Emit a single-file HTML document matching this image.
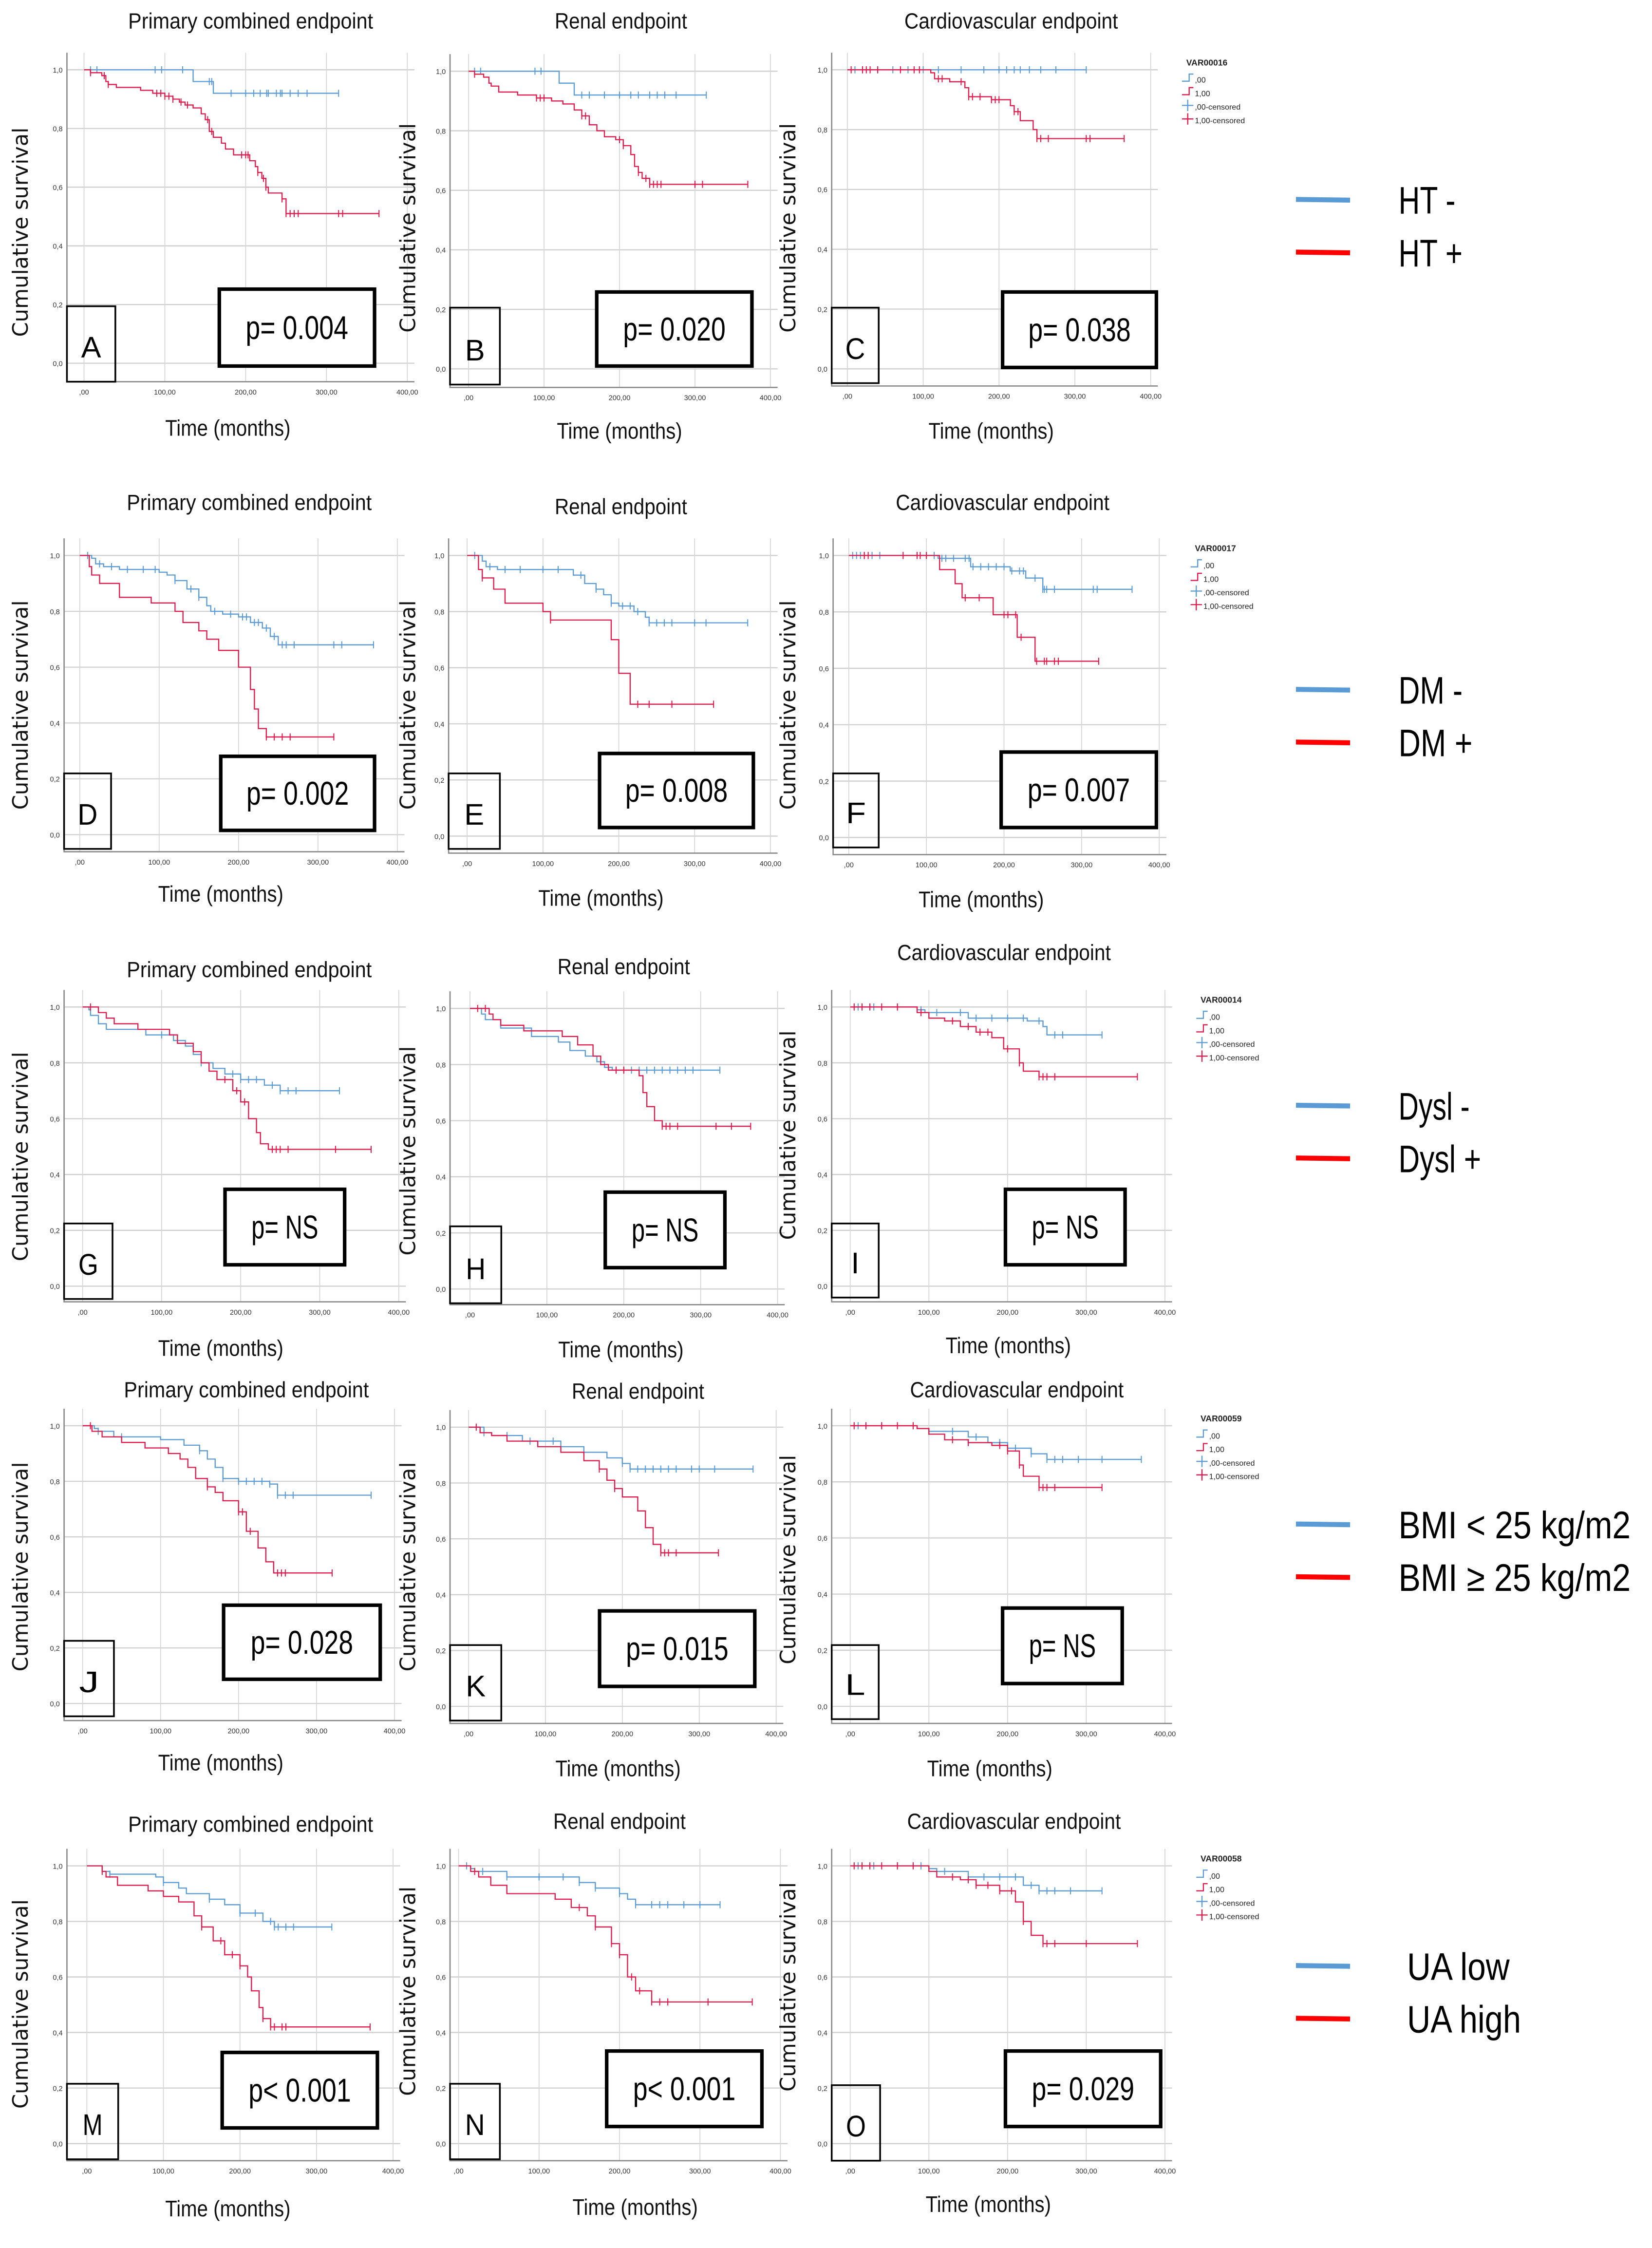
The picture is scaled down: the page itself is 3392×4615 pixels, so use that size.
<!DOCTYPE html>
<html><head><meta charset="utf-8"><title>Kaplan-Meier survival curves</title>
<style>html,body{margin:0;padding:0;background:#fff}svg{display:block}
text{font-family:"Liberation Sans Narrow","Liberation Sans",sans-serif}</style></head>
<body>
<svg id="fig" xmlns="http://www.w3.org/2000/svg" width="3392" height="4615" viewBox="0 0 1160 1578.3" preserveAspectRatio="none"></svg>
<script>
// ---- data: [time (months)], [survival], [censor times] ----
const aBlueT=[0,135,160,315], aBlueS=[1,0.96,0.92,0.92], aBlueC=[8,16,88,96,122,155,158,182,200,210,218,226,228,238,243,245,255,265,276,315];
const aRedT=[0,8,22,27,30,40,70,85,100,110,118,125,135,145,150,155,160,170,175,185,205,212,215,220,225,228,245,250,365];
const aRedS=[1,0.99,0.98,0.96,0.95,0.94,0.93,0.92,0.91,0.90,0.89,0.88,0.87,0.85,0.83,0.79,0.77,0.75,0.73,0.71,0.69,0.67,0.65,0.63,0.60,0.58,0.56,0.51,0.51];
const aRedC=[8,25,30,90,95,100,105,110,120,128,153,158,195,200,203,215,222,225,245,250,255,260,265,315,320,365];
const bBlueT=[0,120,140,315], bBlueS=[1,0.96,0.92,0.92], bBlueC=[8,16,88,96,150,160,180,200,215,225,240,250,260,275,315];
const bRedT=[0,8,20,27,30,40,65,90,110,125,140,150,160,170,180,195,205,215,220,225,230,240,370];
const bRedS=[1,0.99,0.98,0.96,0.95,0.93,0.92,0.91,0.90,0.89,0.87,0.85,0.82,0.80,0.78,0.77,0.75,0.72,0.68,0.66,0.64,0.62,0.62];
const bRedC=[8,90,95,100,150,155,200,205,225,235,240,245,250,255,300,310,370];
const cBlueT=[0,315], cBlueS=[1,1], cBlueC=[10,20,40,60,80,100,120,150,180,200,210,220,228,240,255,275,315];
const cRedT=[0,110,115,135,155,160,190,215,220,228,245,250,365];
const cRedS=[1,0.99,0.97,0.96,0.94,0.91,0.90,0.88,0.86,0.83,0.80,0.77,0.77];
const cRedC=[5,20,25,30,40,70,88,95,120,125,150,160,165,175,190,195,200,220,225,250,255,265,315,320,365];
const dBlueT=[0,15,20,30,50,100,110,120,135,150,160,165,180,200,215,230,240,250,255,370];
const dBlueS=[1,0.99,0.97,0.96,0.95,0.94,0.93,0.91,0.88,0.85,0.82,0.80,0.79,0.78,0.76,0.74,0.71,0.68,0.68,0.68];
const dBlueC=[10,25,40,60,80,95,120,140,150,170,190,205,210,220,225,235,245,255,260,270,320,330,370];
const dRedT=[0,12,15,25,50,90,120,130,150,160,175,200,215,220,225,235,245,320];
const dRedS=[1,0.96,0.93,0.90,0.85,0.83,0.80,0.76,0.73,0.70,0.66,0.60,0.52,0.45,0.38,0.35,0.35,0.35];
const dRedC=[235,245,255,265,320];
const eBlueT=[0,20,25,40,140,155,170,180,190,200,220,235,240,250,370];
const eBlueS=[1,0.98,0.96,0.95,0.93,0.90,0.88,0.86,0.83,0.82,0.80,0.78,0.76,0.76,0.76];
const eBlueC=[10,30,50,70,100,120,150,170,190,205,215,225,240,250,260,270,300,315,370];
const eRedT=[0,15,20,35,50,100,110,190,200,215,225,325], eRedS=[1,0.95,0.92,0.88,0.83,0.80,0.77,0.70,0.58,0.47,0.47,0.47];
const eRedC=[20,110,225,240,270,325];
const fBlueT=[0,115,157,208,228,250,365], fBlueS=[1,0.99,0.96,0.945,0.92,0.88,0.88];
const fBlueC=[5,10,15,20,30,40,110,120,125,135,150,155,160,170,180,190,200,210,220,225,240,250,252,255,265,315,320,365];
const fRedT=[0,117,137,146,186,217,240,322], fRedS=[1,0.95,0.90,0.85,0.79,0.71,0.625,0.625];
const fRedC=[20,25,70,88,92,100,150,168,200,205,215,222,242,252,255,265,270,322];
const gBlueT=[0,8,10,20,30,80,115,130,140,150,165,180,200,230,250,325];
const gBlueS=[1,0.99,0.97,0.94,0.92,0.90,0.88,0.86,0.83,0.80,0.78,0.76,0.74,0.72,0.70,0.70];
const gBlueC=[100,150,190,200,210,220,240,250,260,270,325];
const gRedT=[0,20,30,40,70,110,120,140,150,160,170,190,200,210,220,225,235,240,365];
const gRedS=[1,0.98,0.96,0.94,0.92,0.90,0.87,0.84,0.80,0.77,0.74,0.70,0.66,0.60,0.55,0.51,0.49,0.49,0.49];
const gRedC=[10,180,195,205,240,245,250,260,320,365];
const hBlueT=[0,15,20,40,80,115,130,150,165,175,185,325], hBlueS=[1,0.98,0.96,0.93,0.90,0.88,0.85,0.83,0.81,0.79,0.78,0.78];
const hBlueC=[170,190,200,210,220,230,240,250,260,270,280,290,325];
const hRedT=[0,25,30,40,70,120,140,160,170,180,220,225,230,240,250,365];
const hRedS=[1,0.98,0.96,0.94,0.92,0.90,0.87,0.83,0.80,0.78,0.76,0.70,0.65,0.60,0.58,0.58];
const hRedC=[10,20,190,200,250,255,260,270,320,340,365];
const iBlueT=[0,85,95,150,225,245,250,320], iBlueS=[1,0.99,0.98,0.96,0.95,0.93,0.90,0.90];
const iBlueC=[10,30,60,90,110,140,160,180,200,220,240,260,270,320];
const iRedT=[0,85,100,120,140,160,180,195,215,220,240,365], iRedS=[1,0.98,0.96,0.95,0.93,0.91,0.89,0.85,0.80,0.77,0.75,0.75];
const iRedC=[5,15,25,40,60,90,130,150,165,175,200,215,240,245,250,260,365];
const jBlueT=[0,15,20,40,100,130,150,160,170,180,200,240,250,370];
const jBlueS=[1,0.99,0.98,0.96,0.95,0.93,0.91,0.88,0.85,0.81,0.80,0.79,0.75,0.75];
const jBlueC=[20,50,150,180,200,210,220,230,240,250,260,270,370];
const jRedT=[0,12,25,50,80,110,125,135,145,160,170,180,200,210,225,235,245,250,320];
const jRedS=[1,0.98,0.96,0.94,0.92,0.90,0.88,0.85,0.81,0.78,0.76,0.73,0.69,0.62,0.56,0.51,0.47,0.47,0.47];
const jRedC=[10,160,200,205,215,250,255,260,320];
const kBlueT=[0,20,30,70,120,150,180,200,210,370], kBlueS=[1,0.98,0.97,0.95,0.93,0.91,0.89,0.87,0.85,0.85];
const kBlueC=[20,50,80,110,150,200,210,220,230,240,250,260,270,290,300,320,370];
const kRedT=[0,15,30,50,90,120,150,170,180,190,200,220,230,240,250,325];
const kRedS=[1,0.98,0.97,0.95,0.93,0.91,0.88,0.85,0.81,0.78,0.75,0.70,0.64,0.58,0.55,0.55];
const kRedC=[10,170,190,250,255,260,270,325];
const lBlueT=[0,85,100,150,175,200,230,250,370], lBlueS=[1,0.99,0.98,0.96,0.94,0.92,0.90,0.88,0.88];
const lBlueC=[10,40,80,100,130,160,190,210,230,250,260,270,290,320,370];
const lRedT=[0,85,100,120,150,180,200,215,220,240,320], lRedS=[1,0.99,0.97,0.95,0.94,0.93,0.91,0.86,0.82,0.78,0.78];
const lRedC=[5,20,40,60,80,130,150,190,200,215,240,245,250,260,320];
const mBlueT=[0,20,30,90,100,120,130,160,180,200,230,245,320];
const mBlueS=[1,0.98,0.97,0.96,0.94,0.92,0.90,0.88,0.86,0.83,0.80,0.78,0.78];
const mBlueC=[30,100,160,200,220,240,245,250,260,270,320];
const mRedT=[0,20,25,40,80,100,120,140,150,165,180,200,210,215,225,230,240,370];
const mRedS=[1,0.98,0.96,0.93,0.91,0.89,0.87,0.82,0.78,0.73,0.68,0.64,0.60,0.55,0.49,0.45,0.42,0.42];
const mRedC=[20,150,175,190,200,230,240,245,255,260,370];
const nBlueT=[0,15,20,60,150,170,200,210,220,325], nBlueS=[1,0.99,0.98,0.96,0.94,0.92,0.90,0.88,0.86,0.86];
const nBlueC=[10,30,60,100,130,150,170,200,220,240,250,260,280,300,325];
const nRedT=[0,15,25,40,60,120,140,160,170,190,200,210,220,240,365];
const nRedS=[1,0.98,0.96,0.93,0.90,0.88,0.85,0.82,0.78,0.72,0.68,0.60,0.55,0.51,0.51];
const nRedC=[20,150,170,190,200,215,225,240,250,260,310,365];
const oBlueT=[0,100,110,150,220,240,320], oBlueS=[1,0.99,0.98,0.96,0.93,0.91,0.91];
const oBlueC=[10,30,60,90,120,150,170,190,210,230,240,250,260,280,320];
const oRedT=[0,100,110,140,160,190,210,220,230,245,365], oRedS=[1,0.98,0.96,0.95,0.93,0.91,0.87,0.80,0.75,0.72,0.72];
const oRedC=[5,15,25,40,60,80,130,150,160,175,190,205,220,245,250,260,300,365];
const yTicks=[0,0.2,0.4,0.6,0.8,1.0], yTickLabels=["0,0","0,2","0,4","0,6","0,8","1,0"];
const xTicks=[0,100,200,300,400], xTickLabels=[",00","100,00","200,00","300,00","400,00"];

// ---- layout (thumbnail coordinates) ----
const panels=[
 {id:'a',L:47,x0:59,x4:286,y1:49,y0:255,ax:268,title:'Primary combined endpoint',tx:176,ty:15,ylx:14,yly:163,tmx:160,tmy:301,letter:'A',lb:[47,215,81,268],p:'p= 0.004',pb:[154,203,263,257],b:aBlueT,bs:aBlueS,bc:aBlueC,r:aRedT,rs:aRedS,rc:aRedC},
 {id:'b',L:316,x0:329,x4:541,y1:50,y0:259,ax:272,title:'Renal endpoint',tx:436,ty:15,ylx:286,yly:160,tmx:435,tmy:303,letter:'B',lb:[316,216,351,270],p:'p= 0.020',pb:[419,205,528,257],b:bBlueT,bs:bBlueS,bc:bBlueC,r:bRedT,rs:bRedS,rc:bRedC},
 {id:'c',L:584,x0:595,x4:808,y1:49,y0:259,ax:271,title:'Cardiovascular endpoint',tx:710,ty:15,ylx:553,yly:160,tmx:696,tmy:303,letter:'C',lb:[584,216,617,269],p:'p= 0.038',pb:[704,205,812,258],leg:'VAR00016',b:cBlueT,bs:cBlueS,bc:cBlueC,r:cRedT,rs:cRedS,rc:cRedC},
 {id:'d',L:45,x0:56,x4:279,y1:390,y0:586,ax:598,title:'Primary combined endpoint',tx:175,ty:353,ylx:14,yly:495,tmx:155,tmy:628,letter:'D',lb:[45,543,78,596],p:'p= 0.002',pb:[155,531,263,583],b:dBlueT,bs:dBlueS,bc:dBlueC,r:dRedT,rs:dRedS,rc:dRedC},
 {id:'e',L:315,x0:328,x4:541,y1:390,y0:587,ax:599,title:'Renal endpoint',tx:436,ty:356,ylx:286,yly:495,tmx:422,tmy:631,letter:'E',lb:[315,543,351,596],p:'p= 0.008',pb:[421,529,529,581],b:eBlueT,bs:eBlueS,bc:eBlueC,r:eRedT,rs:eRedS,rc:eRedC},
 {id:'f',L:585,x0:596,x4:814,y1:390,y0:588,ax:600,title:'Cardiovascular endpoint',tx:704,ty:353,ylx:553,yly:495,tmx:689,tmy:632,letter:'F',lb:[585,543,617,595],p:'p= 0.007',pb:[703,528,812,581],leg:'VAR00017',b:fBlueT,bs:fBlueS,bc:fBlueC,r:fRedT,rs:fRedS,rc:fRedC},
 {id:'g',L:45,x0:58,x4:280,y1:707,y0:903,ax:914,title:'Primary combined endpoint',tx:175,ty:681,ylx:14,yly:812,tmx:155,tmy:947,letter:'G',lb:[45,859,79,912],p:'p= NS',pb:[158,835,242,888],b:gBlueT,bs:gBlueS,bc:gBlueC,r:gRedT,rs:gRedS,rc:gRedC},
 {id:'h',L:316,x0:330,x4:546,y1:708,y0:905,ax:916,title:'Renal endpoint',tx:438,ty:679,ylx:286,yly:808,tmx:436,tmy:948,letter:'H',lb:[316,861,352,915],p:'p= NS',pb:[425,837,509,890],b:hBlueT,bs:hBlueS,bc:hBlueC,r:hRedT,rs:hRedS,rc:hRedC},
 {id:'i',L:584,x0:597,x4:818,y1:707,y0:903,ax:914,title:'Cardiovascular endpoint',tx:705,ty:669,ylx:553,yly:797,tmx:708,tmy:945,letter:'I',lb:[584,859,617,911],p:'p= NS',pb:[706,835,790,888],leg:'VAR00014',b:iBlueT,bs:iBlueS,bc:iBlueC,r:iRedT,rs:iRedS,rc:iRedC},
 {id:'j',L:45,x0:58,x4:277,y1:1001,y0:1196,ax:1208,title:'Primary combined endpoint',tx:173,ty:976,ylx:14,yly:1100,tmx:155,tmy:1238,letter:'J',lb:[45,1152,80,1205],p:'p= 0.028',pb:[157,1127,267,1179],b:jBlueT,bs:jBlueS,bc:jBlueC,r:jRedT,rs:jRedS,rc:jRedC},
 {id:'k',L:316,x0:329,x4:545,y1:1002,y0:1198,ax:1210,title:'Renal endpoint',tx:448,ty:977,ylx:286,yly:1100,tmx:434,tmy:1242,letter:'K',lb:[316,1155,352,1208],p:'p= 0.015',pb:[421,1131,530,1184],b:kBlueT,bs:kBlueS,bc:kBlueC,r:kRedT,rs:kRedS,rc:kRedC},
 {id:'l',L:584,x0:597,x4:818,y1:1001,y0:1198,ax:1210,title:'Cardiovascular endpoint',tx:714,ty:976,ylx:553,yly:1095,tmx:695,tmy:1242,letter:'L',lb:[584,1155,617,1207],p:'p= NS',pb:[704,1129,788,1182],leg:'VAR00059',b:lBlueT,bs:lBlueS,bc:lBlueC,r:lRedT,rs:lRedS,rc:lRedC},
 {id:'m',L:47,x0:61,x4:276,y1:1310,y0:1505,ax:1517,title:'Primary combined endpoint',tx:176,ty:1281,ylx:14,yly:1407,tmx:160,tmy:1551,letter:'M',lb:[47,1463,83,1516],p:'p< 0.001',pb:[156,1441,265,1494],b:mBlueT,bs:mBlueS,bc:mBlueC,r:mRedT,rs:mRedS,rc:mRedC},
 {id:'n',L:316,x0:322,x4:548,y1:1310,y0:1505,ax:1517,title:'Renal endpoint',tx:435,ty:1279,ylx:286,yly:1398,tmx:446,tmy:1550,letter:'N',lb:[316,1463,351,1516],p:'p< 0.001',pb:[426,1440,535,1493],b:nBlueT,bs:nBlueS,bc:nBlueC,r:nRedT,rs:nRedS,rc:nRedC},
 {id:'o',L:584,x0:597,x4:818,y1:1310,y0:1505,ax:1517,title:'Cardiovascular endpoint',tx:712,ty:1279,ylx:553,yly:1395,tmx:694,tmy:1548,letter:'O',lb:[584,1464,618,1517],p:'p= 0.029',pb:[706,1440,815,1493],leg:'VAR00058',b:oBlueT,bs:oBlueS,bc:oBlueC,r:oRedT,rs:oRedS,rc:oRedC}
];
const titleLen={'Primary combined endpoint':172,'Renal endpoint':93,'Cardiovascular endpoint':150};
const legends=[
 {n:'ht',y:140,a:'HT -',b:'HT +',la:40,lb:45},
 {n:'dm',y:484,a:'DM -',b:'DM +',la:45,lb:52},
 {n:'dysl',y:776,a:'Dysl -',b:'Dysl +',la:50,lb:58},
 {n:'bmi',y:1070,a:'BMI < 25 kg/m2',b:'BMI \u2265 25 kg/m2',la:163,lb:163},
 {n:'ua',y:1380,a:'UA low',b:'UA high',dx:6,la:72,lb:80}
];
const BLUE='#5b9bd5', RED='#e0194a';
const NS='http://www.w3.org/2000/svg';
const svg=document.getElementById('fig');
function mk(tag,attrs,parent,txt){const e=document.createElementNS(NS,tag);for(const k in attrs)e.setAttribute(k,attrs[k]);if(txt!==undefined)e.textContent=txt;(parent||svg).appendChild(e);return e;}
function survAt(T,S,t){let v=S[0];for(let i=0;i<T.length;i++){if(T[i]<=t)v=S[i];}return v;}
const SQ={lengthAdjust:'spacingAndGlyphs'};

panels.forEach(p=>{
  const X=t=>p.x0+(p.x4-p.x0)*t/400;
  const Y=s=>p.y0-(p.y0-p.y1)*s;
  const g=mk('g',{});
  
  
  const top=p.y1-12, right=X(400)+5;
  yTicks.forEach((v,i)=>{
    const l=mk('line',{x1:p.L,x2:right,y1:Y(v),y2:Y(v),stroke:'#cfcfcf','stroke-width':0.8},g);
    
    
    const t=mk('text',{x:p.L-3,y:Y(v)+2,'font-size':5,'text-anchor':'end',fill:'#333'},g,yTickLabels[i]);
    
    
  });
  xTicks.forEach((v,i)=>{
    const l=mk('line',{x1:X(v),x2:X(v),y1:top,y2:p.ax,stroke:'#d6d6d6','stroke-width':0.6},g);
    
    
    const t=mk('text',{x:X(v),y:p.ax+9,'font-size':5,'text-anchor':'middle',fill:'#333'},g,xTickLabels[i]);
    
    
  });
  const fr=mk('path',{d:`M${p.L},${top}V${p.ax}H${right}`,fill:'none',stroke:'#888','stroke-width':0.9},g);
  
  
  [[p.b,p.bs,p.bc,BLUE,'blue'],[p.r,p.rs,p.rc,RED,'red']].forEach(([T,S,C,col,nm])=>{
    let d=`M${X(T[0])},${Y(S[0])}`;
    for(let i=1;i<T.length;i++){d+=`H${X(T[i])}V${Y(S[i])}`;}
    const path=mk('path',{d:d,fill:'none',stroke:col,'stroke-width':0.8},g);
    
    
    C.forEach(c=>{
      const y=Y(survAt(T,S,c));
      const m=mk('line',{x1:X(c),x2:X(c),y1:y-2.5,y2:y+2.5,stroke:col,'stroke-width':0.7},g);
      
      
    });
  });
  const tt=mk('text',Object.assign({x:p.tx,y:p.ty+5,'font-size':15.5,'text-anchor':'middle',fill:'#111',textLength:titleLen[p.title]},SQ),g,p.title);
  
  
  const yl=mk('text',Object.assign({x:0,y:0,'font-size':15,'text-anchor':'middle',fill:'#111',textLength:147,transform:`translate(${p.ylx+5.5},${p.yly}) rotate(-90)`,style:'font-family:"DejaVu Sans",sans-serif'},SQ),g,'Cumulative survival');
  
  
  const xl=mk('text',Object.assign({x:p.tmx,y:p.tmy+5,'font-size':16,'text-anchor':'middle',fill:'#111',textLength:88},SQ),g,'Time (months)');
  
  
  const lb=p.lb;
  const lr=mk('rect',{x:lb[0],y:lb[1],width:lb[2]-lb[0],height:lb[3]-lb[1],fill:'none',stroke:'#000','stroke-width':1.2},g);
  
  
  const lt=mk('text',Object.assign({x:(lb[0]+lb[2])/2,y:lb[3]-17,'font-size':21,'text-anchor':'middle',fill:'#000'},p.letter==='I'?{}:{textLength:14}, SQ),g,p.letter);
  
  
  const pb=p.pb;
  const pr=mk('rect',{x:pb[0],y:pb[1],width:pb[2]-pb[0],height:pb[3]-pb[1],fill:'#fff',stroke:'#000','stroke-width':2.5},g);
  
  
  const pt=mk('text',Object.assign({x:(pb[0]+pb[2])/2,y:(pb[1]+pb[3])/2+8,'font-size':23,'text-anchor':'middle',fill:'#000',textLength:p.p.indexOf('NS')>=0?47:72},SQ),g,p.p);
  
  
  if(p.leg){
    const lx=X(400)+22, ly=p.y1-3;
    const lg=mk('g',{},g);
    
    
    mk('text',{x:lx+3,y:ly,'font-size':6,'font-weight':'bold',fill:'#222'},lg,p.leg);
    const labs=[',00','1,00',',00-censored','1,00-censored'], cols=[BLUE,RED,BLUE,RED];
    labs.forEach((s,i)=>{
      const yy=ly+11+i*9.5;
      if(i<2) mk('path',{d:`M${lx},${yy}H${lx+5}V${yy-5}H${lx+8}`,fill:'none',stroke:cols[i],'stroke-width':0.8},lg);
      else { mk('line',{x1:lx,x2:lx+8,y1:yy-2,y2:yy-2,stroke:cols[i],'stroke-width':0.8},lg); mk('line',{x1:lx+4,x2:lx+4,y1:yy-6,y2:yy+2,stroke:cols[i],'stroke-width':0.8},lg);}
      mk('text',{x:lx+9,y:yy+1,'font-size':5.5,fill:'#222'},lg,s);
    });
  }
});
legends.forEach(l=>{
  const g=mk('g',{});
  
  
  const dx=l.dx||0;
  mk('line',{x1:910,x2:948,y1:l.y,y2:l.y+0.5,stroke:BLUE,'stroke-width':3.5},g);
  mk('line',{x1:910,x2:948,y1:l.y+37,y2:l.y+37.5,stroke:'#ff0000','stroke-width':3.5},g);
  const a=mk('text',Object.assign({x:982+dx,y:l.y+10,'font-size':27,fill:'#000',textLength:l.la},SQ),g,l.a);
  
  
  const b=mk('text',Object.assign({x:982+dx,y:l.y+47,'font-size':27,fill:'#000',textLength:l.lb},SQ),g,l.b);
  
  
});
</script>
</body></html>
